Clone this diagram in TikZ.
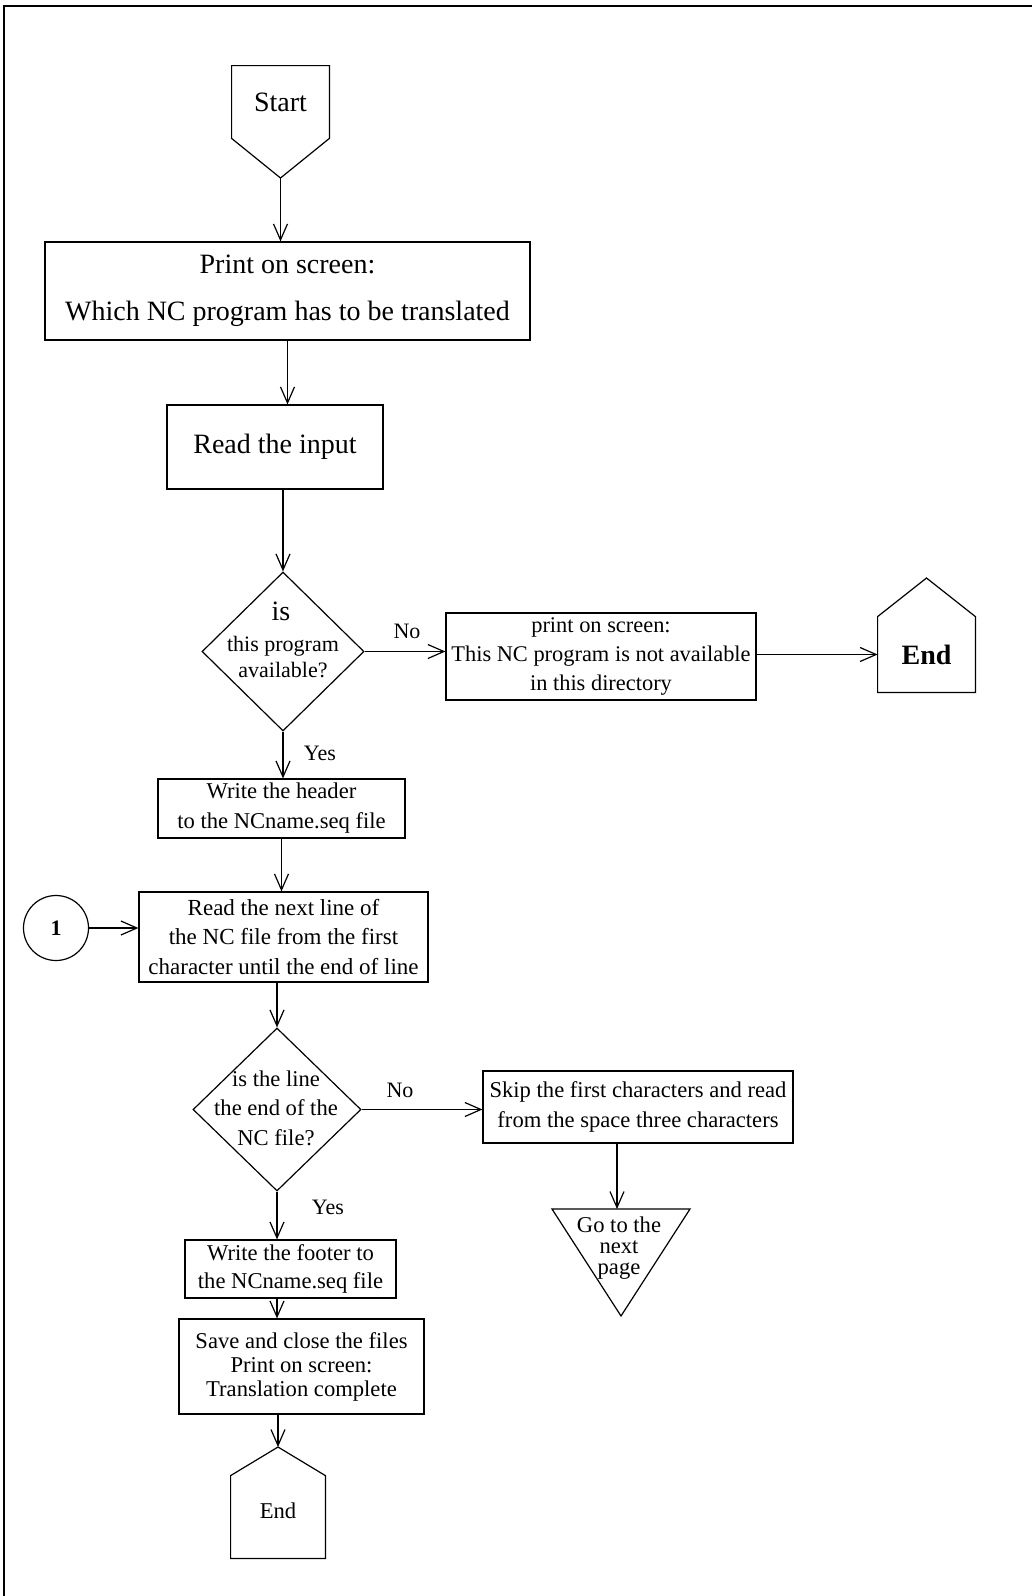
\documentclass[tikz,border=0pt]{standalone}
\usepackage{fontspec}
\setmainfont{Liberation Serif}
\usetikzlibrary{arrows.meta,shapes.geometric,calc}
\begin{document}
\begin{tikzpicture}[x=0.5pt,y=-0.5pt,
  thin line/.style={line width=0.6pt},
  box/.style={draw, line width=0.6pt, inner sep=0pt, align=center},
  decision/.style={draw, diamond, line width=0.6pt, inner sep=0pt},
  arr/.style={line width=0.6pt, -{Straight Barb[length=8pt,width=7pt]}},
  big/.style={font=\fontsize{14}{23.5}\selectfont},
  lbl/.style={font=\fontsize{11}{13}\selectfont, inner sep=0pt},
  frame/.style={line width=1.2pt}]
\useasboundingbox (0,0) rectangle (1032,1596);

% page frame
\draw[frame] (4,1596) -- (4,6) -- (1032,6);

% start terminal (pointing down)
\node[inner sep=0pt, minimum width=48.5pt, minimum height=36pt, big] (start) at (280.5,102) {Start};
\coordinate (starttip) at (280.5,178);
\draw[thin line] (start.south west) -- (start.north west) -- (start.north east) -- (start.south east) -- (starttip) -- cycle;

% main column
\node[box, big, minimum width=242.5pt, minimum height=49pt] (print) at (287.5,291)
  {Print on screen:\\Which NC program has to be translated};
\node[box, big, minimum width=108pt, minimum height=42pt] (readin) at (275,447) {Read the input};

\node[decision, minimum width=81pt, minimum height=79.5pt] (d1) at (283,651.5) {};
\node[lbl, font=\fontsize{14}{16}\selectfont] (d1a) at (281,611) {is};
\node[lbl] (d1b) at (283,646) {this program};
\node[lbl] (d1c) at (283,670) {available?};

\node[box, font=\fontsize{11.2}{14.5}\selectfont, minimum width=155pt, minimum height=43.5pt] (na) at (601,656.5)
  {print on screen:\\This NC program is not available\\in this directory};

% end terminal on the right (pointing up)
\node[inner sep=0pt, minimum width=48.5pt, minimum height=37.5pt, font=\bfseries\fontsize{14}{16}\selectfont] (endr) at (926.5,654.5) {End};
\coordinate (endrtip) at (926.5,578);
\draw[thin line] (endr.north west) -- (endr.south west) -- (endr.south east) -- (endr.north east) -- (endrtip) -- cycle;

\node[box, font=\fontsize{11.3}{15}\selectfont, minimum width=123.5pt, minimum height=29.5pt] (header) at (281.5,808.5)
  {Write the header\\to the NCname.seq file};

\node[draw, circle, thin line, minimum size=32.5pt, inner sep=0pt, font=\bfseries\fontsize{11}{13}\selectfont] (c1) at (56,928) {1};

\node[box, font=\fontsize{11.5}{14.75}\selectfont, minimum width=144.5pt, minimum height=45pt] (readnext) at (283.5,937)
  {Read the next line of\\the NC file from the first\\character until the end of line};

\node[decision, minimum width=84pt, minimum height=81.5pt] (d2) at (277,1109.5) {};
\node[lbl, font=\fontsize{11.3}{14.75}\selectfont, align=center] (d2t) at (276,1108) {is the line\\the end of the\\NC file?};

\node[box, font=\fontsize{11.3}{15}\selectfont, minimum width=155pt, minimum height=36pt] (skip) at (638,1107)
  {Skip the first characters and read\\from the space three characters};

% off-page connector
\coordinate (tritop) at (617,1209);
\draw[thin line] (552,1209) -- (690,1209) -- (621,1316) -- cycle;
\node[lbl, font=\fontsize{11.3}{10.5}\selectfont, align=center] (gonext) at (619,1248) {Go to the\\next\\page};

\node[box, font=\fontsize{11.3}{14}\selectfont, minimum width=105.5pt, minimum height=29pt] (footer) at (290.5,1269)
  {Write the footer to\\the NCname.seq file};
\node[box, font=\fontsize{11.3}{12}\selectfont, minimum width=122.5pt, minimum height=47.5pt] (save) at (301.5,1366.5)
  {Save and close the files\\Print on screen:\\Translation complete};

% end terminal at the bottom (pointing up)
\node[inner sep=0pt, minimum width=47pt, minimum height=41pt, font=\fontsize{11.3}{13}\selectfont] (endb) at (278,1517) {\raisebox{6pt}{End}};
\coordinate (endbtip) at (278,1447);
\draw[thin line] (endb.north west) -- (endb.south west) -- (endb.south east) -- (endb.north east) -- (endbtip) -- cycle;

% connectors
\draw[arr] (starttip) -- (starttip |- print.north);
\draw[arr] (print.south) -- (print.south |- readin.north);
\draw[arr] (d1.north |- readin.south) -- (d1.north);
\draw[arr] (d1.east) -- (d1.east -| na.west);
\draw[arr] (na.east |- endr.west) -- (endr.west);
\draw[arr] (d1.south) -- (d1.south |- header.north);
\draw[arr] (header.south) -- (header.south |- readnext.north);
\draw[arr] (c1.east) -- (c1.east -| readnext.west);
\draw[arr] (d2.north |- readnext.south) -- (d2.north);
\draw[arr] (d2.east) -- (d2.east -| skip.west);
\draw[arr] (skip.south -| tritop) -- (tritop);
\draw[arr] (d2.south) -- (d2.south |- footer.north);
\draw[arr] (footer.south -| d2.south) -- (save.north -| d2.south);
\draw[arr] (save.south -| endbtip) -- (endbtip);

% branch labels
\node[lbl] (no1) at (407,631) {No};
\node[lbl] (yes1) at (320,753) {Yes};
\node[lbl] (no2) at (400,1090) {No};
\node[lbl] (yes2) at (328,1207) {Yes};
\end{tikzpicture}
\end{document}
